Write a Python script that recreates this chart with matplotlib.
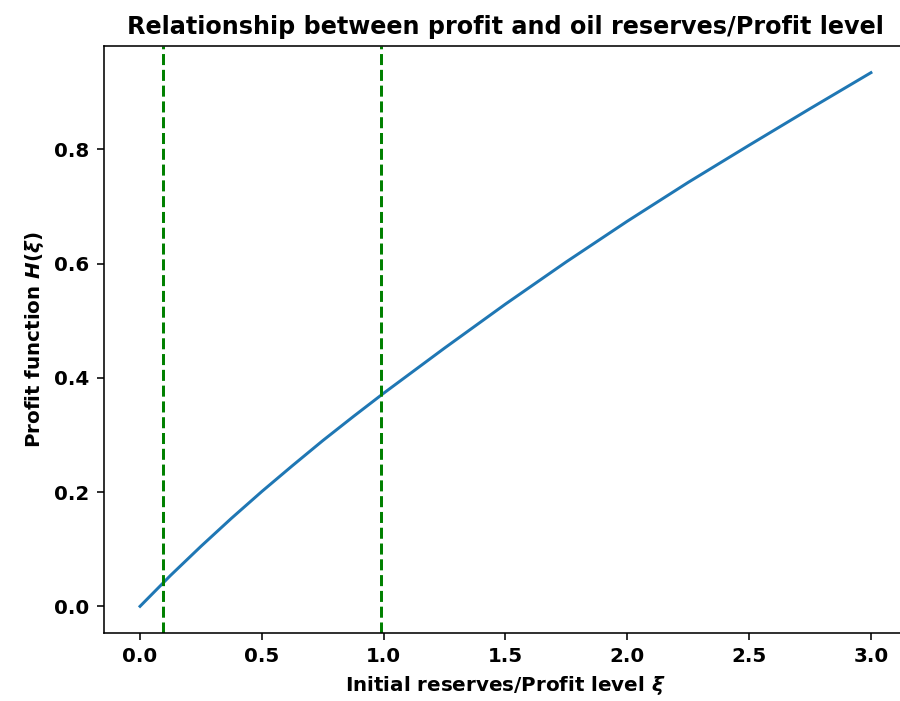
import matplotlib
matplotlib.use("Agg")
import matplotlib.pyplot as plt

# initial reserves / profit level
xi = [0.0, 0.125, 0.25, 0.375, 0.5, 0.625, 0.75, 0.875, 1.0,
      1.25, 1.5, 1.75, 2.0, 2.25, 2.5, 2.75, 3.0]
# profit function H(xi)
profit = [0.0, 0.054, 0.105, 0.154, 0.201, 0.246, 0.290, 0.332, 0.373,
          0.452, 0.529, 0.603, 0.674, 0.742, 0.807, 0.871, 0.934]
# reference levels marked with dashed lines
marked_levels = [0.095, 0.99]


def main():
  plt.rcParams["font.weight"] = "bold"
  plt.rcParams["mathtext.fontset"] = "custom"
  plt.rcParams["mathtext.it"] = "DejaVu Sans:italic:bold"
  plt.rcParams["mathtext.rm"] = "DejaVu Sans:bold"

  fig = plt.figure(figsize=(900 / 143, 701 / 143), dpi=143)
  ax = fig.add_axes([0.115, 0.097, 0.8933, 0.8374])
  ax.plot(xi, profit)
  for level in marked_levels:
    ax.axvline(level, color="green", linestyle="--")
  ax.set_title("Relationship between profit and oil reserves/Profit level",
               fontweight="bold")
  ax.set_xlabel(r"Initial reserves/Profit level $\xi$", fontweight="bold")
  ax.set_ylabel(r"Profit function $H(\xi)$", fontweight="bold")
  fig.savefig("out.png", dpi=143)


if __name__ == "__main__":
  main()
